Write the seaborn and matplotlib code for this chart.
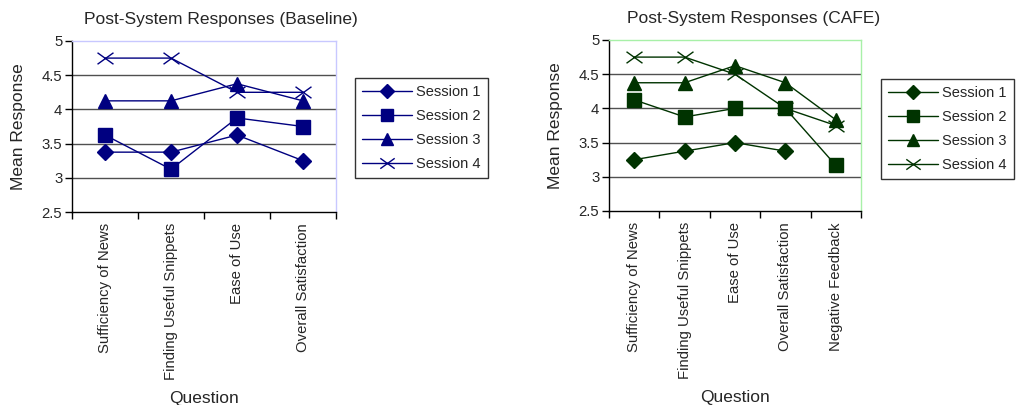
import numpy as np
import pandas as pd
import matplotlib
matplotlib.use("Agg")
import matplotlib.pyplot as plt
import seaborn as sns
from matplotlib.lines import Line2D
from matplotlib.path import Path

sns.set_theme(style="white")
plt.rcParams['font.family'] = ['Liberation Sans', 'DejaVu Sans']

sessions = ["Session 1", "Session 2", "Session 3", "Session 4"]

base_questions = ["Sufficiency of News", "Finding Useful Snippets", "Ease of Use",
                  "Overall Satisfaction"]
base_s1 = [3.375, 3.375, 3.625, 3.25]
base_s2 = [3.625, 3.125, 3.875, 3.75]
base_s3 = [4.125, 4.125, 4.375, 4.125]
base_s4 = [4.75, 4.75, 4.25, 4.25]

cafe_questions = ["Sufficiency of News", "Finding Useful Snippets", "Ease of Use",
                  "Overall Satisfaction", "Negative Feedback"]
cafe_s1 = [3.25, 3.375, 3.5, 3.375, np.nan]
cafe_s2 = [4.125, 3.875, 4.0, 4.0, 3.167]
cafe_s3 = [4.375, 4.375, 4.625, 4.375, 3.833]
cafe_s4 = [4.75, 4.75, 4.5, 4.0, 3.75]

y_ticks = [2.5, 3, 3.5, 4, 4.5, 5]
y_tick_labels = ["2.5", "3", "3.5", "4", "4.5", "5"]

wide_x = Path([(-1, -0.72), (1, 0.72), (-1, 0.72), (1, -0.72)],
              [Path.MOVETO, Path.LINETO, Path.MOVETO, Path.LINETO])
markers = {"Session 1": "D", "Session 2": "s", "Session 3": "^", "Session 4": wide_x}
msizes = {"Session 1": 8.3, "Session 2": 10, "Session 3": 10, "Session 4": 11.5}


def long_df(questions, series):
    rows = []
    for name, vals in zip(sessions, series):
        for q, v in zip(questions, vals):
            rows.append({"Question": q, "Session": name, "Response": v})
    return pd.DataFrame(rows)


fig = plt.figure(figsize=(10.28, 4.05), dpi=100)
W, H = 1028, 405


def make_axes(x0, x1, y0, y1):
    return fig.add_axes([x0 / W, 1 - y1 / H, (x1 - x0) / W, (y1 - y0) / H])


def draw(ax, questions, series, color, border, title, title_x, legend_box):
    df = long_df(questions, series).dropna()
    for name in sessions:
        sub = df[df["Session"] == name]
        sns.lineplot(data=sub, x="Question", y="Response", ax=ax, color=color,
                     marker=markers[name], markersize=msizes[name],
                     markeredgecolor=color, markerfacecolor=color,
                     markeredgewidth=1.0, linewidth=1.0, sort=False,
                     legend=False)
    n = len(questions)
    ax.set_xlim(-0.5, n - 0.5)
    ax.set_ylim(2.5, 5)
    ax.set_xticks(range(n))
    ax.set_xticklabels(questions, rotation=90, fontsize=10.7)
    ax.set_xticks(np.arange(n + 1) - 0.5, minor=True)
    ax.tick_params(axis="x", which="major", length=0, pad=8)
    ax.tick_params(axis="x", which="minor", length=5, width=1, color="black",
                   direction="out", bottom=True)
    ax.set_yticks(y_ticks)
    ax.set_yticklabels(y_tick_labels, fontsize=10.7)
    ax.tick_params(axis="y", length=5, width=1, color="black", direction="out",
                   left=True, pad=2)
    for yv in [3, 3.5, 4, 4.5]:
        ax.axhline(yv, color="#505050", linewidth=1.0, zorder=0)
    for s in ["left", "bottom"]:
        ax.spines[s].set_color("black")
        ax.spines[s].set_linewidth(1.0)
    for s in ["top", "right"]:
        ax.spines[s].set_color(border)
        ax.spines[s].set_linewidth(1.0)
    ax.set_xlabel("Question", fontsize=12.5, labelpad=8)
    ax.set_ylabel("Mean Response", fontsize=12.5, labelpad=11)
    ax.set_title(title, fontsize=12.5, pad=12, x=title_x)
    handles = [Line2D([], [], color=color, marker=markers[s],
                      markersize=msizes[s] * 0.9, markeredgecolor=color,
                      markerfacecolor=color, linewidth=1.0) for s in sessions]
    leg = fig.legend(handles, sessions, loc="upper left",
                     bbox_to_anchor=legend_box, bbox_transform=fig.transFigure,
                     frameon=True, fancybox=False, fontsize=10.5,
                     handlelength=3.4, borderpad=0.5, labelspacing=0.68,
                     handletextpad=0.3, borderaxespad=0)
    leg.get_frame().set_edgecolor("black")
    leg.get_frame().set_linewidth(1.0)


ax1 = make_axes(72, 336, 41, 212)
draw(ax1, base_questions, [base_s1, base_s2, base_s3, base_s4], "#000080",
     "#c8c8ff", "Post-System Responses (Baseline)", 0.564, (355 / W, 1 - 78 / H))

ax2 = make_axes(609, 861, 40, 211)
draw(ax2, cafe_questions, [cafe_s1, cafe_s2, cafe_s3, cafe_s4], "#003300",
     "#a8f0a8", "Post-System Responses (CAFE)", 0.575, (881 / W, 1 - 79 / H))

fig.savefig("out.png", dpi=100, facecolor="white")
